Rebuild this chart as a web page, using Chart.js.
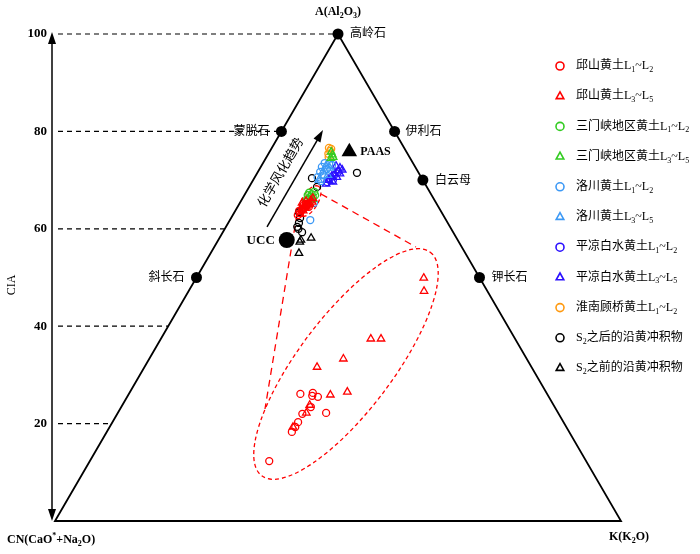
<!DOCTYPE html>
<html><head><meta charset="utf-8">
<script src="https://cdn.jsdelivr.net/npm/chart.js@4.4.0/dist/chart.umd.min.js"></script>
<style>html,body{margin:0;padding:0;background:#fff;}canvas{display:block;}</style>
</head><body>
<canvas id="c" width="700" height="554"></canvas>
<script>
// ---------- DATA (each point: [CIA = A %, K %]) ----------
const ciaTicks = [100, 80, 60, 40, 20];
const tickLabels = ['100', '80', '60', '40', '20'];

const seriesLabels = [
  '邱山黄土L_1~L_2', '邱山黄土L_3~L_5',
  '三门峡地区黄土L_1~L_2', '三门峡地区黄土L_3~L_5',
  '洛川黄土L_1~L_2', '洛川黄土L_3~L_5',
  '平凉白水黄土L_1~L_2', '平凉白水黄土L_3~L_5',
  '淮南顾桥黄土L_1~L_2',
  'S_2之后的沿黄冲积物', 'S_2之前的沿黄冲积物'
];

const qsL12 = [[63.2,11.7],[63.9,11.7],[64.1,11.8],[64.3,11.9],[64.5,11.9],[64.7,12.0],[65.1,11.8],[64.9,12.1],[64.9,11.5],[64.5,12.6],[62.8,11.5],[63.7,11.3]];
const qsL35 = [[63.7,12.0],[64.3,12.0],[64.5,12.2],[64.9,12.3],[65.1,12.5],[65.3,11.0],[65.7,11.5],[65.9,12.3],[66.3,12.4],[63.0,11.8],[65.5,12.7]];
const smxL12 = [[66.9,11.2],[66.5,11.8],[67.1,11.8],[67.6,12.0],[66.1,11.5],[65.9,12.3],[66.5,12.3],[67.4,11.2],[66.9,12.5],[65.5,11.6]];
const smxL35 = [[75.8,10.9],[75.2,11.4],[74.7,11.8],[74.5,11.5],[66.7,11.7],[66.1,12.5]];
const lcL12 = [[73.5,10.9],[73.3,11.8],[72.7,10.8],[72.3,11.9],[71.7,11.0],[71.0,12.0],[70.6,11.1],[69.8,12.1],[65.3,13.1],[61.8,14.2],[73.1,12.4]];
const lcL35 = [[72.9,11.4],[72.5,12.3],[71.7,11.5],[71.0,12.7],[70.0,11.6]];
const plL12 = [[70.4,13.4],[71.0,13.8],[69.6,13.3],[71.7,14.2],[70.0,14.1]];
const plL35 = [[72.9,13.2],[72.5,14.1],[72.1,14.7],[71.9,14.1],[71.3,13.8],[70.8,13.5],[70.6,14.5],[70.0,13.4],[69.6,14.3],[69.2,13.3],[71.3,14.7]];
const hnL12 = [[76.6,10.1],[76.0,10.6],[75.4,10.6],[74.7,11.0],[76.4,10.6]];
const afterS2 = [[70.4,10.2],[68.6,12.0],[71.5,17.6],[63.4,11.4],[62.2,12.2],[61.2,12.5],[60.0,13.0],[59.3,14.0],[60.4,12.6]];
const beforeS2 = [[57.3,14.6],[58.1,16.2],[55.0,15.6],[57.7,14.6]];

// enlarged view of the 邱山 loess samples (inside the big dashed ellipse)
const qsL12Zoom = [[12.3,31.7],[18.3,32.7],[19.3,32.8],[20.3,32.8],[22.0,32.7],[23.4,33.5],[25.7,32.6],[26.3,32.4],[25.5,33.7],[26.1,30.3],[22.2,36.8]];
const qsL35Zoom = [[19.3,32.4],[22.2,33.3],[23.8,33.1],[25.9,35.7],[26.5,38.4],[31.6,30.5],[33.3,34.3],[37.4,37.1],[37.4,38.9],[49.9,40.2],[47.2,41.6]];

const mineralNames = ['高岭石', '蒙脱石', '伊利石', '白云母', '斜长石', '钾长石'];
const mineralCIA = [100, 80, 80, 70, 50, 50];
const mineralK = [0, 0, 20, 30, 0, 50];
const ucc = [57.7, 12.1];
const paas = [75.8, 14.1];

// ---------- STYLES ----------
const seriesData = [qsL12, qsL35, smxL12, smxL35, lcL12, lcL35, plL12, plL35, hnL12, afterS2, beforeS2];
const seriesColors = ['#ff0000','#ff0000','#33cc22','#33cc22','#3d99f5','#3d99f5','#2a10ff','#2a10ff','#ff9a10','#000000','#000000'];
const seriesShapes = ['circle','triangle','circle','triangle','circle','triangle','circle','triangle','circle','circle','triangle'];

const toXY = p => ({ x: p[1] + p[0] / 2, y: p[0] });
const FAM = "'Liberation Serif','Noto Sans CJK SC',serif";

function drawRich(ctx, str, x, y, size, align, bold) {
  const segs = [];
  for (let i = 0; i < str.length; i++) {
    const c = str[i];
    if (c === '_' || c === '^') { segs.push({ t: str[i + 1], m: c }); i++; }
    else if (segs.length && segs[segs.length - 1].m === 'n') segs[segs.length - 1].t += c;
    else segs.push({ t: c, m: 'n' });
  }
  const fn = m => (bold ? 'bold ' : '') + (m === 'n' ? size : Math.round(size * 0.65)) + 'px ' + FAM;
  let total = 0;
  segs.forEach(s => { ctx.font = fn(s.m); s.w = ctx.measureText(s.t).width; total += s.w; });
  let cx = align === 'center' ? x - total / 2 : align === 'right' ? x - total : x;
  ctx.textAlign = 'left'; ctx.textBaseline = 'middle';
  segs.forEach(s => {
    ctx.font = fn(s.m);
    const dy = s.m === '_' ? size * 0.33 : s.m === '^' ? -size * 0.33 : 0;
    ctx.fillText(s.t, cx, y + dy);
    cx += s.w;
  });
}

function marker(ctx, shape, x, y, r, color, lw) {
  ctx.save();
  ctx.strokeStyle = color; ctx.lineWidth = lw; ctx.setLineDash([]);
  ctx.beginPath();
  if (shape === 'circle') ctx.arc(x, y, r, 0, Math.PI * 2);
  else {
    ctx.moveTo(x, y - r * 1.1);
    ctx.lineTo(x + r * 0.95, y + r * 0.6);
    ctx.lineTo(x - r * 0.95, y + r * 0.6);
    ctx.closePath();
  }
  ctx.stroke();
  ctx.restore();
}

function arrowHead(ctx, x1, y1, x2, y2, len, w) {
  const a = Math.atan2(y2 - y1, x2 - x1);
  ctx.beginPath();
  ctx.moveTo(x2, y2);
  ctx.lineTo(x2 - len * Math.cos(a) + w / 2 * Math.sin(a), y2 - len * Math.sin(a) - w / 2 * Math.cos(a));
  ctx.lineTo(x2 - len * Math.cos(a) - w / 2 * Math.sin(a), y2 - len * Math.sin(a) + w / 2 * Math.cos(a));
  ctx.closePath();
  ctx.fill();
}

const ternaryPlugin = {
  id: 'ternary',
  beforeDatasetsDraw(chart) {
    const ctx = chart.ctx, sx = chart.scales.x, sy = chart.scales.y;
    const P = (x, y) => [sx.getPixelForValue(x), sy.getPixelForValue(y)];
    ctx.save();
    ctx.strokeStyle = '#000'; ctx.fillStyle = '#000';
    // horizontal dashed reference lines
    ctx.lineWidth = 1.2; ctx.setLineDash([5, 4]);
    ciaTicks.forEach(v => {
      const [xe, ye] = P(v / 2, v);
      ctx.beginPath(); ctx.moveTo(sx.left + 3, ye); ctx.lineTo(xe, ye); ctx.stroke();
    });
    ctx.setLineDash([]);
    // triangle
    ctx.lineWidth = 1.8;
    const a = P(0, 0), b = P(50, 100), c = P(100, 0);
    ctx.beginPath(); ctx.moveTo(a[0], a[1]); ctx.lineTo(b[0], b[1]); ctx.lineTo(c[0], c[1]); ctx.closePath(); ctx.stroke();
    // left double arrow
    const ax = sx.left - 3;
    ctx.lineWidth = 1.5;
    ctx.beginPath(); ctx.moveTo(ax, sy.top + 8); ctx.lineTo(ax, sy.bottom - 8); ctx.stroke();
    arrowHead(ctx, ax, sy.top + 20, ax, sy.top - 2, 12, 8);
    arrowHead(ctx, ax, sy.bottom - 20, ax, sy.bottom, 12, 8);
    // trend arrow
    const t1 = P(37.46, 60.37), t2 = P(47.35, 80.29);
    ctx.lineWidth = 1.5;
    ctx.beginPath(); ctx.moveTo(t1[0], t1[1]); ctx.lineTo(t2[0] - 5, t2[1] + 9); ctx.stroke();
    arrowHead(ctx, t1[0], t1[1], t2[0], t2[1], 12, 8);
    const tc = P(39.75, 71.66);
    ctx.save();
    ctx.translate(tc[0], tc[1]); ctx.rotate(-60 * Math.PI / 180);
    ctx.font = "13px 'Noto Sans CJK SC'"; ctx.textAlign = 'center'; ctx.textBaseline = 'middle';
    ctx.fillText('化学风化趋势', 0, 0);
    ctx.restore();
    // red dashed ellipses and connectors
    ctx.strokeStyle = '#ff0000'; ctx.lineWidth = 1.3; ctx.setLineDash([4, 3]);
    const e1 = P(45.05, 65.71);
    ctx.beginPath(); ctx.ellipse(e1[0], e1[1], 17, 8, -60 * Math.PI / 180, 0, Math.PI * 2); ctx.stroke();
    const e2 = P(51.41, 32.24);
    ctx.beginPath(); ctx.ellipse(e2[0], e2[1], 140, 47, -53 * Math.PI / 180, 0, Math.PI * 2); ctx.stroke();
    ctx.setLineDash([7, 5]);
    const l1a = P(42.76, 63.04), l1b = P(37.10, 23.0);
    ctx.beginPath(); ctx.moveTo(l1a[0], l1a[1]); ctx.lineTo(l1b[0], l1b[1]); ctx.stroke();
    const l2a = P(47.0, 67.15), l2b = P(63.78, 56.26);
    ctx.beginPath(); ctx.moveTo(l2a[0], l2a[1]); ctx.lineTo(l2b[0], l2b[1]); ctx.stroke();
    ctx.restore();
  },
  afterDatasetsDraw(chart) {
    const ctx = chart.ctx, sx = chart.scales.x, sy = chart.scales.y;
    const P = (x, y) => [sx.getPixelForValue(x), sy.getPixelForValue(y)];
    ctx.save();
    ctx.fillStyle = '#000';
    // tick labels
    ciaTicks.forEach((v, i) => drawRich(ctx, tickLabels[i], sx.left - 8, sy.getPixelForValue(v), 13, 'right', true));
    // CIA axis title
    ctx.save();
    ctx.translate(12, 285); ctx.rotate(-Math.PI / 2);
    drawRich(ctx, 'CIA', 0, 0, 12, 'center', false);
    ctx.restore();
    // vertex labels
    drawRich(ctx, 'A(Al_2O_3)', P(50, 100)[0], 12, 12, 'center', true);
    drawRich(ctx, 'CN(CaO^*+Na_2O)', 7, 540, 12, 'left', true);
    drawRich(ctx, 'K(K_2O)', 609, 537, 12, 'left', true);
    // mineral labels
    const mOff = [[12, 0, 'left'], [-12, 0, 'right'], [11, 0, 'left'], [12, 1, 'left'], [-12, 0, 'right'], [12, 0, 'left']];
    mineralNames.forEach((n, i) => {
      const p = P(mineralK[i] + mineralCIA[i] / 2, mineralCIA[i]);
      drawRich(ctx, n, p[0] + mOff[i][0], p[1] + mOff[i][1], 12, mOff[i][2], false);
    });
    const pu = P(ucc[1] + ucc[0] / 2, ucc[0]);
    drawRich(ctx, 'UCC', pu[0] - 12, pu[1] + 1, 13, 'right', true);
    const pp = P(paas[1] + paas[0] / 2, paas[0]);
    drawRich(ctx, 'PAAS', pp[0] + 11, pp[1], 12, 'left', true);
    // legend
    seriesLabels.forEach((lab, i) => {
      const y = 66 + i * 30.2;
      marker(ctx, seriesShapes[i], 560, y, 4, seriesColors[i], 1.6);
      ctx.fillStyle = '#000';
      drawRich(ctx, lab, 576, y, 12, 'left', false);
    });
    ctx.restore();
  }
};

const datasets = seriesData.map((d, i) => ({
  label: seriesLabels[i],
  data: d.map(toXY),
  pointStyle: seriesShapes[i],
  pointRadius: seriesShapes[i] === 'triangle' ? 4.3 : 3.5,
  pointBorderWidth: 1.3,
  pointBorderColor: seriesColors[i],
  pointBackgroundColor: 'rgba(0,0,0,0)',
  showLine: false,
  clip: false
}));
datasets.push({ label: 'zoomL12', data: qsL12Zoom.map(toXY), pointStyle: 'circle', pointRadius: 3.5, pointBorderWidth: 1.3, pointBorderColor: '#ff0000', pointBackgroundColor: 'rgba(0,0,0,0)', clip: false });
datasets.push({ label: 'zoomL35', data: qsL35Zoom.map(toXY), pointStyle: 'triangle', pointRadius: 4.3, pointBorderWidth: 1.3, pointBorderColor: '#ff0000', pointBackgroundColor: 'rgba(0,0,0,0)', clip: false });
datasets.push({ label: 'minerals', data: mineralCIA.map((c, i) => toXY([c, mineralK[i]])), pointStyle: 'circle', pointRadius: 5.5, pointBorderWidth: 0, pointBackgroundColor: '#000', clip: false });
datasets.push({ label: 'UCC', data: [toXY(ucc)], pointStyle: 'circle', pointRadius: 8, pointBorderWidth: 0, pointBackgroundColor: '#000', clip: false });
datasets.push({ label: 'PAAS', data: [toXY(paas)], pointStyle: 'triangle', pointRadius: 9, pointBorderWidth: 0, pointBackgroundColor: '#000', clip: false });

new Chart(document.getElementById('c'), {
  type: 'scatter',
  data: { datasets },
  options: {
    responsive: false,
    devicePixelRatio: 1,
    animation: false,
    events: [],
    layout: { padding: { left: 55, right: 79, top: 34, bottom: 33 } },
    scales: {
      x: { type: 'linear', min: 0, max: 100, display: false },
      y: { type: 'linear', min: 0, max: 100, display: false }
    },
    plugins: { legend: { display: false }, tooltip: { enabled: false } }
  },
  plugins: [ternaryPlugin]
});
</script>
</body></html>
